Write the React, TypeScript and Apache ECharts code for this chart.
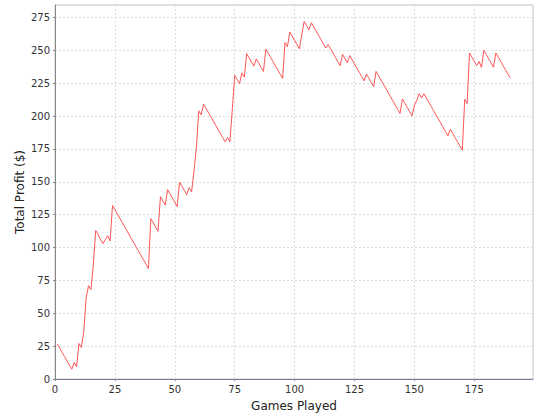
import React, { useEffect, useRef } from "react";
import * as echarts from "echarts";

const profit: number[] = [
  26.6, 23.4, 20.2, 17.0, 13.8, 10.6, 7.4, 12.6, 9.4, 27,
  24, 36, 62, 71, 68, 87, 113, 110, 106, 103,
  106, 109, 105, 132, 128.8, 125.6, 122.4, 119.2, 116, 112.8,
  109.6, 106.4, 103.2, 100, 96.8, 93.6, 90.4, 87.2, 84, 122,
  118.8, 115.6, 112.4, 138.7, 135.5, 132.3, 144, 140.8, 137.6, 134.4,
  131.2, 149.8, 146.6, 143.4, 140.2, 145.5, 142.3, 158, 176, 204,
  201, 209, 206, 202.8, 199.6, 196.4, 193.2, 190, 186.8, 183.6,
  180.4, 183.7, 180.5, 205, 231, 227.8, 224.6, 232.8, 229.6, 247.5,
  244.3, 241.1, 238, 243.5, 240.3, 237.1, 234, 251, 247.8, 244.6,
  241.4, 238.2, 235, 231.8, 228.6, 256, 252.8, 264, 260.8, 257.6,
  254.4, 251.2, 262, 272, 268.8, 265.6, 271, 267.8, 264.6, 261.4,
  258.2, 255, 251.8, 254.4, 251.2, 248, 244.8, 241.6, 238.4, 247,
  243.8, 240.6, 246, 242.8, 239.6, 236.4, 233.2, 230, 226.8, 232,
  228.8, 225.6, 222.4, 234, 230.8, 227.6, 224.4, 221.2, 218, 214.8,
  211.6, 208.4, 205.2, 202, 213, 209.8, 206.6, 203.4, 200.2, 208,
  212, 217, 213.8, 217, 213.8, 210.6, 207.4, 204.2, 201, 197.8,
  194.6, 191.4, 188.2, 185, 190, 186.8, 183.6, 180.4, 177.2, 174,
  212.8, 209.5, 248, 244.8, 241.6, 238.4, 241.5, 237, 250, 246.8,
  243.6, 240.4, 237.2, 248, 244.8, 241.6, 238.4, 235.2, 232, 229,
];

const firstGame = 1;
const xTickLabels = ["0", "25", "50", "75", "100", "125", "150", "175"];
const yTickLabels = ["0", "25", "50", "75", "100", "125", "150", "175", "200", "225", "250", "275"];

export default function App() {
  const ref = useRef<HTMLDivElement>(null);
  useEffect(() => {
    if (!ref.current) return;
    const chart = echarts.init(ref.current, null, { renderer: "svg" });
    const seriesData = profit.map((v, i) => [firstGame + i, v]);
    const font = "'DejaVu Sans', sans-serif";
    chart.setOption({
      animation: false,
      backgroundColor: "#ffffff",
      grid: {
        left: 55,
        right: 7,
        top: 5,
        bottom: 41,
        show: true,
        borderColor: "#c4c4c4",
        borderWidth: 1,
        backgroundColor: "#ffffff",
      },
      xAxis: {
        type: "value",
        min: 0,
        max: 199.5,
        interval: 25,
        name: "Games Played",
        nameLocation: "middle",
        nameGap: 21,
        nameMoveOverlap: false,
        nameTextStyle: { fontFamily: font, fontSize: 12, color: "#222" },
        axisLine: { show: true, lineStyle: { color: "#7a7a96", width: 1 } },
        axisTick: { show: true, length: 2, lineStyle: { color: "#888" } },
        axisLabel: {
          fontFamily: font,
          fontSize: 10,
          color: "#333",
          margin: 5,
          showMaxLabel: false,
          formatter: (v: number) => (xTickLabels.includes(String(v)) ? String(v) : ""),
        },
        splitLine: { show: true, lineStyle: { color: "#dcdcdc", type: [2, 2], width: 1 } },
      },
      yAxis: {
        type: "value",
        min: 0,
        max: 284.5,
        interval: 25,
        name: "Total Profit ($)",
        nameLocation: "middle",
        nameGap: 29,
        nameMoveOverlap: false,
        nameTextStyle: { fontFamily: font, fontSize: 12, color: "#222" },
        axisLine: { show: true, lineStyle: { color: "#888", width: 1 } },
        axisTick: { show: true, length: 2, lineStyle: { color: "#888" } },
        axisLabel: {
          fontFamily: font,
          fontSize: 10,
          color: "#333",
          margin: 5,
          showMaxLabel: false,
          formatter: (v: number) => (yTickLabels.includes(String(v)) ? String(v) : ""),
        },
        splitLine: { show: true, lineStyle: { color: "#dcdcdc", type: [2, 2], width: 1 } },
      },
      series: [
        {
          type: "line",
          data: seriesData,
          showSymbol: false,
          symbol: "none",
          lineStyle: { color: "#ff5555", width: 1 },
          itemStyle: { color: "#ff5555" },
        },
      ],
    });
    return () => chart.dispose();
  }, []);
  return (
    <div
      ref={ref}
      style={{ position: "fixed", left: 0, top: 0, width: 540, height: 420, background: "#fff" }}
    />
  );
}
